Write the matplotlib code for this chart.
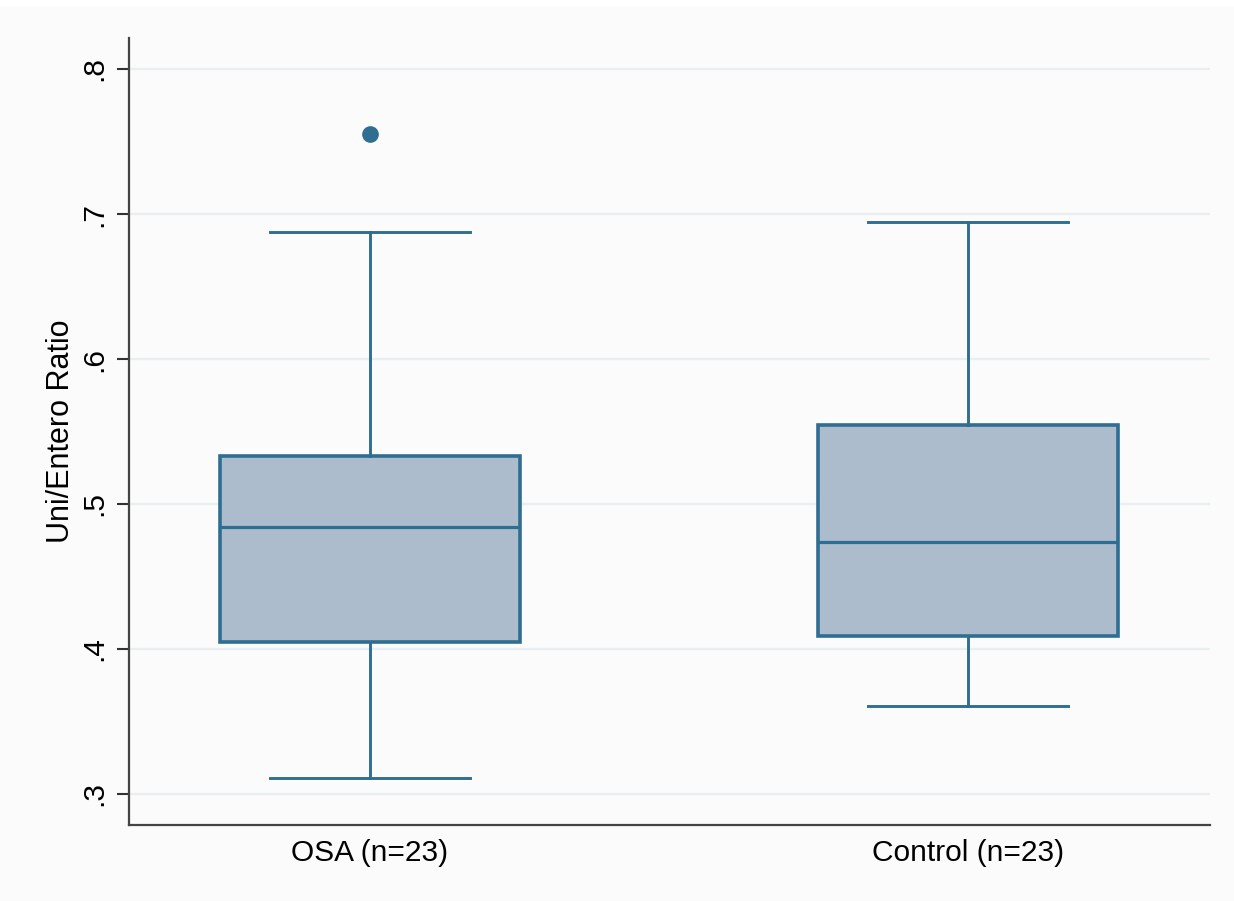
import matplotlib.pyplot as plt
from matplotlib.patches import Rectangle

plt.rcParams['font.family'] = ['Liberation Sans', 'DejaVu Sans']

# summary statistics of the uni/entero ratio per group
groups = ['OSA (n=23)', 'Control (n=23)']
q1 = [0.405, 0.409]
median = [0.484, 0.474]
q3 = [0.533, 0.5545]
whisker_low = [0.311, 0.3607]
whisker_high = [0.6876, 0.6945]
outliers = [[0.7552], []]

yticks = [0.3, 0.4, 0.5, 0.6, 0.7, 0.8]
yticklabels = ['.3', '.4', '.5', '.6', '.7', '.8']

edge = '#2f6e91'
fill = '#adbccd'
bg = '#fbfbfc'

stats = []
for i, name in enumerate(groups):
    stats.append({'label': name, 'q1': q1[i], 'med': median[i], 'q3': q3[i],
                  'whislo': whisker_low[i], 'whishi': whisker_high[i],
                  'fliers': outliers[i]})

fig = plt.figure(figsize=(12.34, 9.01), dpi=100, facecolor=bg)
ax = fig.add_axes([0.1045, 0.0844, 0.876, 0.8734], facecolor=bg)

# white strip along the top edge of the page
fig.patches.append(Rectangle((0, 0.9935), 1, 0.0065, transform=fig.transFigure,
                             facecolor='white', edgecolor='none'))

for y in yticks:
    ax.axhline(y, color='#e9eef1', lw=1.6, zorder=0, xmax=0.9995)

ax.bxp(stats, positions=[1, 2], widths=0.502, patch_artist=True,
       showfliers=True,
       boxprops=dict(facecolor=fill, edgecolor=edge, linewidth=2.6),
       medianprops=dict(color=edge, linewidth=2.3),
       whiskerprops=dict(color=edge, linewidth=2.1),
       capprops=dict(color=edge, linewidth=2.1),
       capwidths=0.335,
       flierprops=dict(marker='o', markerfacecolor=edge, markeredgecolor=edge,
                       markersize=11))

ax.set_xlim(0.597, 2.405)
ax.set_ylim(0.2786, 0.8214)
ax.set_yticks(yticks)
ax.set_yticklabels(yticklabels, rotation=90, va='center', fontsize=21.5)
ax.set_xticks([1, 2])
ax.set_xticklabels(groups, fontsize=21.5)
ax.tick_params(axis='x', length=0, pad=10)
ax.tick_params(axis='y', length=9, width=1.5, color='#333333', pad=6)
ax.set_ylabel('Uni/Entero Ratio', fontsize=22, labelpad=3)

for side in ['top', 'right']:
    ax.spines[side].set_visible(False)
for side in ['left', 'bottom']:
    ax.spines[side].set_color('#444444')
    ax.spines[side].set_linewidth(1.6)

fig.savefig('out.png', dpi=100, facecolor=bg)
